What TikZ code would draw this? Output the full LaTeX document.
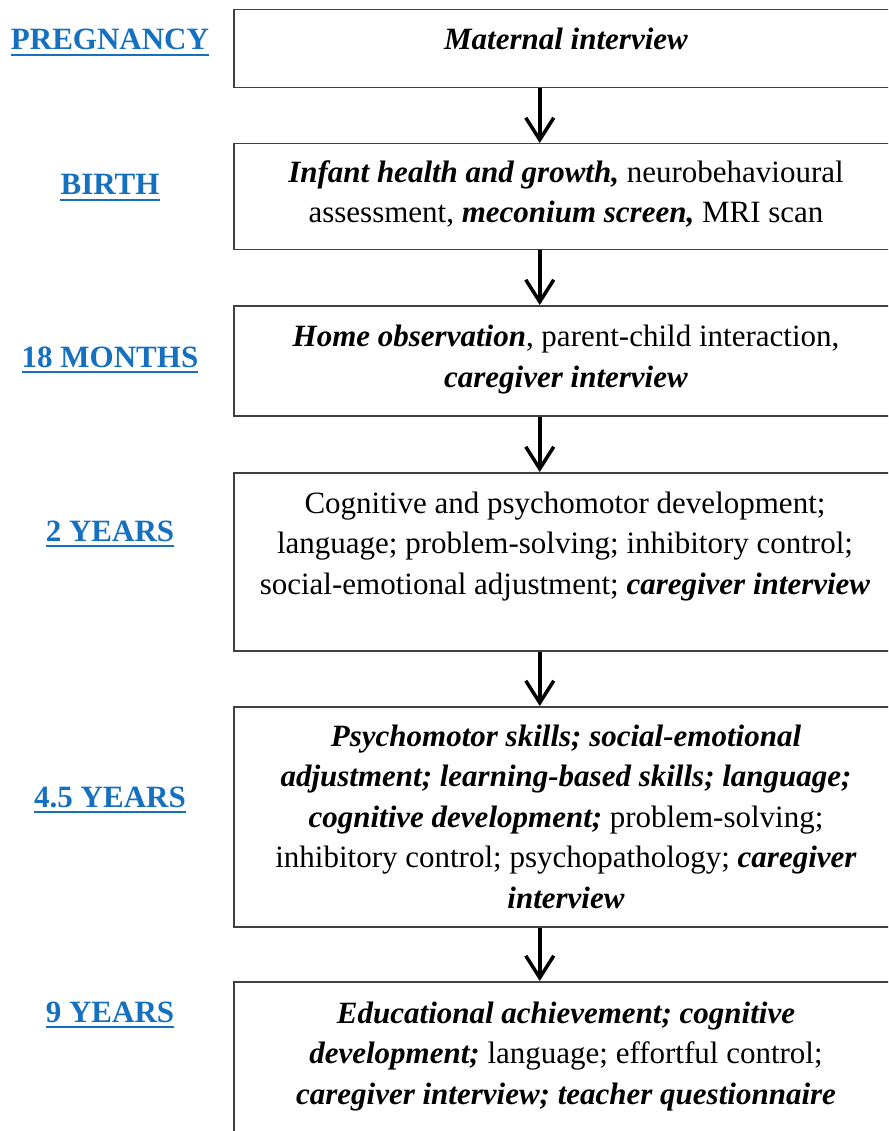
\documentclass[tikz,border=0pt]{standalone}
\usepackage{fontspec}
\setmainfont{Liberation Serif}
\usepackage{tikz}
\usetikzlibrary{arrows.meta,positioning}
\definecolor{linkblue}{RGB}{21, 112, 192}
\definecolor{boxgray}{RGB}{64, 64, 64}
\newcommand{\bi}[1]{\textbf{\textit{#1}}}

\begin{document}
\begin{tikzpicture}[x=1pt, y=-1pt,
    box/.style={draw=boxgray, line width=1.5pt, fill=white, anchor=north west, minimum width=664pt, inner sep=0pt},
    txt/.style={font=\fontsize{31}{40.5}\selectfont, align=center, anchor=base, inner sep=0pt},
    stage/.style={font=\fontsize{31}{37}\selectfont\bfseries, text=linkblue, anchor=base, inner sep=0pt},
    flow/.style={line width=3.5pt, -{Straight Barb[length=22pt, width=28pt, line width=3.5pt]}},
    uline/.style={linkblue, line width=2.5pt}]
            \clip (0,0) rectangle (888,1131);
            \fill[white] (0,0) rectangle (888,1131);

            % Boxes
            \node[box, minimum height=78pt] (b1) at (233,9) {};
            \node[box, minimum height=106pt] (b2) at (233,143) {};
            \node[box, minimum height=110pt] (b3) at (233,305) {};
            \node[box, minimum height=178pt] (b4) at (233,472) {};
            \node[box, minimum height=220pt] (b5) at (233,706) {};
            \node[box, minimum height=200pt] (b6) at (233,981) {};

            % Box texts (base = last line)
            \node[txt] (t1) at (566,50) {\bi{Maternal interview}};
            \node[txt] (t2) at (566,223) {\bi{Infant health and growth,} neurobehavioural\\assessment, \bi{meconium screen,} MRI scan};
            \node[txt] (t3) at (566,387) {\bi{Home observation}, parent-child interaction,\\\bi{caregiver interview}};
            \node[txt] (t4) at (565,594) {Cognitive and psychomotor development;\\language; problem-solving; inhibitory control;\\social-emotional adjustment; \bi{caregiver interview}};
            \node[txt] (t5) at (566,908) {\bi{Psychomotor skills; social-emotional}\\\bi{adjustment; learning-based skills; language;}\\\bi{cognitive development;} problem-solving;\\inhibitory control; psychopathology; \bi{caregiver}\\\bi{interview}};
            \node[txt] (t6) at (566,1104) {\bi{Educational achievement; cognitive}\\\bi{development;} language; effortful control;\\\bi{caregiver interview; teacher questionnaire}};

            % Arrows
            \foreach \a/\b in {b1/b2, b2/b3, b3/b4, b4/b5, b5/b6}
                \draw[flow] ([xshift=-26pt]\a.south) -- ([xshift=-26pt]\b.north);

            % Stage labels
            \node[stage] (s1) at (110,50) {PREGNANCY};
            \node[stage] (s2) at (110,195) {BIRTH};
            \node[stage] (s3) at (110,367) {18 MONTHS};
            \node[stage] (s4) at (110,541) {2 YEARS};
            \node[stage] (s5) at (110,807) {4.5 YEARS};
            \node[stage] (s6) at (110,1022) {9 YEARS};
            \foreach \s in {s1,s2,s3,s4,s5,s6}
                \draw[uline] ([yshift=-5pt]\s.base west) -- ([yshift=-5pt]\s.base east);
        \end{tikzpicture}
\end{document}
